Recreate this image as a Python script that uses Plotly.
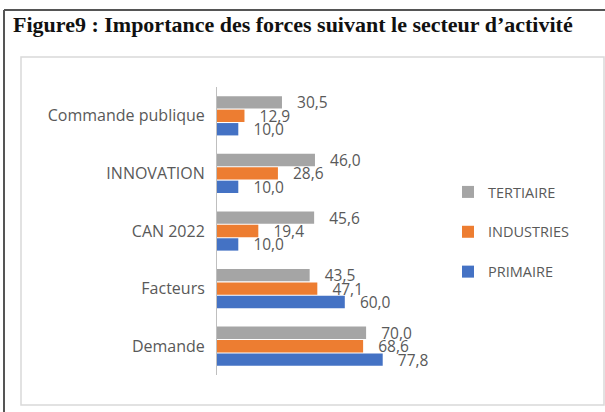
import plotly.graph_objects as go

W, H = 605, 412

categories = ["Demande", "Facteurs", "CAN 2022", "INNOVATION", "Commande publique"]
primaire = [77.8, 60.0, 10.0, 10.0, 10.0]
industries = [68.6, 47.1, 19.4, 28.6, 12.9]
tertiaire = [70.0, 43.5, 45.6, 46.0, 30.5]
series_names = ["PRIMAIRE", "INDUSTRIES", "TERTIAIRE"]
series_values = [primaire, industries, tertiaire]
series_colors = ["#4472C4", "#ED7D31", "#A5A5A5"]
legend_ranks = [3, 2, 1]

title_text = "Figure9 : Importance des forces suivant le secteur d\u2019activité"
label_font = "'Open Sans', 'Noto Sans', sans-serif"
gray_text = "#595959"

def px(x):
    return x / W

def py(y):
    return 1 - y / H

fig = go.Figure()
for name, vals, col, rk in zip(series_names, series_values, series_colors, legend_ranks):
    fig.add_trace(go.Bar(
        y=categories, x=vals, name=name, orientation="h",
        marker=dict(color=col, line=dict(width=0)),
        text=["\u00a0\u00a0\u00a0" + f"{v:.1f}".replace(".", ",") for v in vals],
        textposition="outside", cliponaxis=False, constraintext="none",
        textfont=dict(family=label_font, size=15.5, color=gray_text),
        legendgroup=name, legendrank=rk, hoverinfo="skip",
    ))

fig.update_layout(
    width=W, height=H, margin=dict(l=0, r=0, t=0, b=0),
    paper_bgcolor="white", plot_bgcolor="white",
    barmode="group", bargap=0.3, bargroupgap=0.08,
    font=dict(family=label_font, color=gray_text),
    xaxis=dict(domain=[px(217), px(430)], range=[0, 100], visible=False),
    yaxis=dict(domain=[py(375), py(87)], showline=True, linecolor="#BFBFBF", linewidth=1,
               ticks="", showgrid=False, zeroline=False,
               tickfont=dict(family=label_font, size=16, color=gray_text), ticklabelstandoff=8),
    legend=dict(x=px(448), y=py(176), xanchor="left", yanchor="top",
                traceorder="grouped", tracegroupgap=18,
                font=dict(family=label_font, size=14.5, color=gray_text),
                bgcolor="rgba(0,0,0,0)", itemwidth=30),
    shapes=[
        dict(type="line", xref="paper", yref="paper", x0=px(4), x1=px(605), y0=py(10), y1=py(10),
             line=dict(color="#555555", width=2)),
        dict(type="line", xref="paper", yref="paper", x0=px(4), x1=px(4), y0=py(10), y1=py(412),
             line=dict(color="#555555", width=2)),
        dict(type="rect", xref="paper", yref="paper", x0=px(21), x1=px(604), y0=py(405), y1=py(57),
             line=dict(color="#D9D9D9", width=1.5)),
    ],
    annotations=[
        dict(text="<b>" + title_text + "</b>", xref="paper", yref="paper", x=px(11), y=py(25),
             xanchor="left", yanchor="middle", showarrow=False,
             font=dict(family="'Liberation Serif', serif", size=22, color="#111111")),
    ],
)

fig.write_html("out.html", config={"displayModeBar": False},
               post_script="document.body.style.margin='0';document.body.style.overflow='hidden';")
